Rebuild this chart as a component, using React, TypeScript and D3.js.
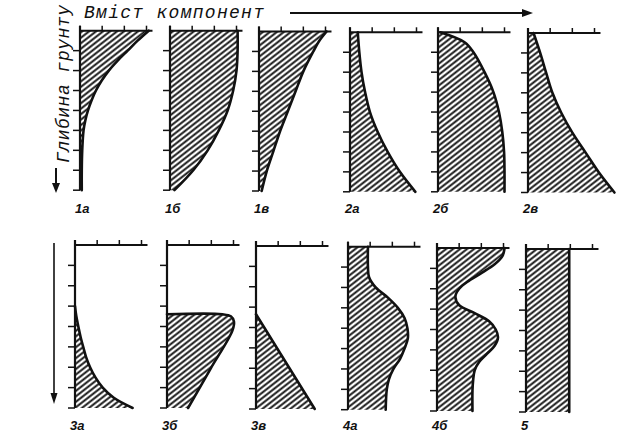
import React from "react";
import * as d3 from "d3";

// ---- data ----
const labels = ["1а", "1б", "1в", "2а", "2б", "2в", "3а", "3б", "3в", "4а", "4б", "5"];

const depth1a = [0, 0.5, 1, 1.5, 2, 2.5, 3, 3.5, 4, 4.5, 5, 6, 7, 8];
const value1a = [3.1, 2.6, 2.15, 1.7, 1.3, 0.98, 0.72, 0.52, 0.36, 0.24, 0.16, 0.1, 0.08, 0.08];
const depth1b = [0, 1, 2, 3, 4, 5, 6, 7, 8];
const value1b = [3.05, 3.05, 3.0, 2.85, 2.6, 2.2, 1.7, 1.05, 0.2];
const depth1v = [0, 0.5, 1, 2, 3, 4, 5, 6, 7, 8];
const value1v = [3.05, 2.7, 2.45, 2.0, 1.65, 1.3, 0.95, 0.65, 0.35, 0.12];
const depth2a = [0, 1, 2, 3, 4, 5, 6, 7, 8];
const value2a = [0.35, 0.42, 0.52, 0.68, 0.9, 1.25, 1.7, 2.25, 2.95];
const depth2b = [0, 0.5, 1, 2, 3, 4, 5, 6, 7, 8];
const value2b = [0.1, 1.2, 1.6, 2.1, 2.5, 2.75, 2.9, 2.98, 3.0, 3.0];
const depth2v = [0, 1, 2, 3, 4, 5, 6, 7, 8];
const value2v = [0.25, 0.55, 0.82, 1.1, 1.5, 2.0, 2.6, 3.2, 3.9];
const depth3a = [3, 3.5, 4, 4.5, 5, 5.5, 6, 6.5, 7, 7.5, 8];
const value3a = [0, 0.06, 0.15, 0.25, 0.37, 0.5, 0.68, 0.92, 1.25, 1.75, 2.6];
const depth3b = [3.4, 3.4, 3.5, 3.75, 4.2, 6.1, 8];
const value3b = [0, 2.5, 2.88, 3.02, 2.95, 1.95, 0.95];
const depth3v = [3.35, 8];
const value3v = [0, 2.65];
const depth4a = [0, 1, 1.5, 2, 2.5, 3, 3.5, 4, 4.5, 5, 5.5, 6, 6.5, 7, 8];
const value4a = [0.9, 0.9, 0.95, 1.25, 1.8, 2.25, 2.55, 2.68, 2.7, 2.55, 2.35, 2.05, 1.85, 1.75, 1.7];
const depth4b = [0, 0.4, 0.8, 1.2, 1.6, 2.0, 2.4, 2.8, 3.2, 3.6, 4.0, 4.4, 4.8, 5.2, 5.6, 6.0, 6.5, 7, 8];
const value4b = [3.05, 2.95, 2.6, 2.05, 1.45, 1.0, 0.83, 1.0, 1.7, 2.35, 2.65, 2.75, 2.6, 2.25, 1.9, 1.7, 1.63, 1.6, 1.6];
const depth5 = [0, 8];
const value5 = [1.95, 1.95];

const depths = [depth1a, depth1b, depth1v, depth2a, depth2b, depth2v, depth3a, depth3b, depth3v, depth4a, depth4b, depth5];
const values = [value1a, value1b, value1v, value2a, value2b, value2v, value3a, value3b, value3v, value4a, value4b, value5];

const valueTicks = [0, 1, 2, 3];
const depthTicks = [1, 2, 3, 4, 5, 6, 7, 8];

const title = "Вміст компонент";
const yTitle = "Глибина грунту";

// ---- layout ----
const W = 620;
const H = 432;
const colLeft = [
  [80, 170, 259, 350, 438, 528],
  [75, 167, 256, 348, 437, 526],
];
const rowTop = [
  [30.7, 30.7, 31.5, 32.3, 32.3, 33],
  [245, 245, 246, 246.7, 248, 249],
];
const rowH = [159.5, 163];
const unit3 = 66.5;
const labelY = [213, 430];

export default function App() {
  const lineFont = "'Liberation Mono', 'DejaVu Sans Mono', monospace";
  const labelFont = "'Liberation Sans', Arial, sans-serif";

  const panels = labels.map((lab, i) => {
    const r = i < 6 ? 0 : 1;
    const c = i % 6;
    const left = colLeft[r][c];
    const top = rowTop[r][c];
    const x = d3.scaleLinear().domain([0, 3]).range([left, left + unit3]);
    const y = d3.scaleLinear().domain([0, 8]).range([top, top + rowH[r]]);
    const pts: [number, number][] = depths[i].map((d, k) => [values[i][k], d]);
    const line = d3
      .line<[number, number]>()
      .x((p) => x(p[0]))
      .y((p) => y(p[1]))
      .curve(d3.curveCatmullRom.alpha(0.5));
    const curve = line(pts) || "";
    const d0 = depths[i][0];
    const dn = depths[i][depths[i].length - 1];
    const fill = `${curve}L${x(0)},${y(dn)}L${x(0)},${y(d0)}Z`;
    return { lab, i, r, x, y, curve, fill };
  });

  return (
    <svg
      width={W}
      height={H}
      viewBox={`0 0 ${W} ${H}`}
      style={{ position: "absolute", left: 0, top: 0, background: "#fff" }}
    >
      <defs>
        <pattern
          id="hatch"
          patternUnits="userSpaceOnUse"
          width={10}
          height={4.3}
          patternTransform="rotate(-38)"
        >
          <rect x={0} y={0} width={10} height={4.3} fill="#fff" />
          <line x1={0} x2={10} y1={2.15} y2={2.15} stroke="#111" strokeWidth={1.9} />
        </pattern>
      </defs>
      <rect x={0} y={0} width={W} height={H} fill="#fff" />

      {/* title */}
      <text
        x={84}
        y={18}
        fontFamily={lineFont}
        fontStyle="italic"
        fontSize={18}
        textLength={180}
        lengthAdjust="spacing"
        fill="#111"
      >
        {title}
      </text>
      <line x1={290} x2={526} y1={13} y2={13} stroke="#111" strokeWidth={2} />
      <path d="M533,13 L522,9 L522,17 Z" fill="#111" />

      {/* vertical axis title */}
      <text
        transform="translate(69,163) rotate(-90)"
        fontFamily={lineFont}
        fontStyle="italic"
        fontSize={18}
        textLength={158}
        lengthAdjust="spacing"
        fill="#111"
      >
        {yTitle}
      </text>
      <line x1={56} x2={56} y1={168} y2={186} stroke="#111" strokeWidth={2} />
      <path d="M56,193 L52,183 L60,183 Z" fill="#111" />

      {/* depth arrow, bottom row */}
      <line x1={54} x2={54} y1={243} y2={396} stroke="#111" strokeWidth={1.6} />
      <path d="M54,404 L50.5,393 L57.5,393 Z" fill="#111" />

      {panels.map((p) => (
        <g key={p.lab}>
          <path d={p.fill} fill="url(#hatch)" stroke="none" />
          <path d={p.curve} fill="none" stroke="#111" strokeWidth={2.6} strokeLinejoin="round" strokeLinecap="round" />
          {/* top axis */}
          <line x1={p.x(0) - 1} x2={p.x(3.27)} y1={p.y(0)} y2={p.y(0)} stroke="#111" strokeWidth={2} />
          {valueTicks.map((t) => (
            <line key={t} x1={p.x(t)} x2={p.x(t)} y1={p.y(0) - 5} y2={p.y(0)} stroke="#111" strokeWidth={1.5} />
          ))}
          {/* left axis */}
          <line x1={p.x(0)} x2={p.x(0)} y1={p.y(0) - 5} y2={p.y(8)} stroke="#111" strokeWidth={2.2} />
          {depthTicks.map((t) => (
            <line key={t} x1={p.x(0) - 7} x2={p.x(0)} y1={p.y(t)} y2={p.y(t)} stroke="#111" strokeWidth={1.5} />
          ))}
          <text
            x={p.x(0) - 5}
            y={labelY[p.r]}
            fontFamily={labelFont}
            fontStyle="italic"
            fontWeight="bold"
            fontSize={13}
            fill="#111"
          >
            {p.lab}
          </text>
        </g>
      ))}
    </svg>
  );
}
